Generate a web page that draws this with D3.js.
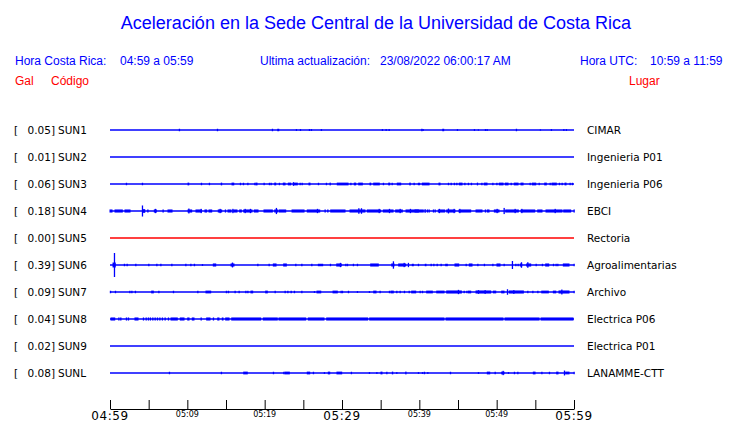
<!DOCTYPE html>
<html>
<head>
<meta charset="utf-8">
<script src="https://cdn.jsdelivr.net/npm/d3@7"></script>
<style>
  body { margin: 0; background: #fff; }
  svg { display: block; }
</style>
</head>
<body>
<svg id="chart" width="740" height="423"></svg>
<script>
// estaciones, valor pico (Gal) y lugar
const stations = [ "SUN1", "SUN2", "SUN3", "SUN4", "SUN5", "SUN6", "SUN7", "SUN8", "SUN9", "SUNL" ];
const peaks = [ 0.05, 0.01, 0.06, 0.18, 0.00, 0.39, 0.09, 0.04, 0.02, 0.08 ];
const places = [ "CIMAR", "Ingenieria P01", "Ingenieria P06", "EBCI", "Rectoria",
  "Agroalimentarias", "Archivo", "Electrica P06", "Electrica P01", "LANAMME-CTT" ];

// eventos: [minuto inicio, minuto fin, amplitud Gal], minutos desde 04:59
const sun1Events = [ [8.96,8.96,.04],[13.88,13.88,.04],[20.99,20.99,.04],[21.69,21.95,.04],[24.09,24.09,.03],
  [24.61,24.61,.03],[25.77,25.77,.03],[26.03,26.03,.03],[27.32,27.32,.03],[35.21,35.21,.03],[35.69,35.69,.03],
  [36.08,36.08,.03],[40.31,40.31,.04],[40.47,40.47,.03],[43.03,43.28,.04],[44.91,44.91,.03],[47.11,47.11,.03],
  [47.62,47.62,.02],[48.53,48.53,.03],[48.75,48.75,.03],[52.54,52.54,.04],[55.64,55.64,.02],[57.06,57.06,.03],
  [58.67,58.67,.03],[59.0,59.0,.03] ];
const sun2Events = [];
const sun3Events = [ [2.11,2.11,.04],[4.18,4.18,.04],[10.09,10.31,.045],[11.81,11.81,.04],[12.84,12.84,.04],
  [14.39,14.57,.045],[15.78,16.13,.045],[16.85,16.85,.04],[17.24,17.24,.04],[17.81,17.81,.04],[18.71,18.71,.04],
  [18.88,19.14,.045],[19.91,19.91,.04],[20.6,20.6,.04],[20.82,20.82,.04],[21.3,21.56,.045],[21.89,21.89,.04],
  [22.41,22.76,.045],[23.06,23.5,.045],[23.7,23.7,.06],[23.83,24.35,.045],[24.57,24.57,.04],[24.83,24.83,.04],
  [25.73,25.99,.045],[26.94,26.94,.04],[27.97,27.97,.04],[28.45,28.62,.045],[29.39,30.91,.045],[31.13,31.13,.04],
  [31.59,31.9,.045],[32.16,32.76,.045],[33.62,33.84,.045],[34.1,34.95,.045],[35.34,35.34,.04],[36.04,36.3,.045],
  [36.47,36.47,.04],[37.15,37.72,.045],[38.76,38.96,.045],[39.31,39.31,.04],[39.87,39.87,.04],[40.0,40.0,.04],
  [40.39,41.38,.045],[42.54,42.8,.045],[43.75,43.75,.04],[44.1,44.1,.04],[44.52,44.52,.04],[44.83,44.83,.04],
  [45.17,45.65,.045],[45.87,45.87,.04],[46.33,46.33,.04],[46.72,46.72,.04],[47.5,47.63,.045],[48.07,48.07,.04],
  [48.4,48.88,.045],[49.49,49.49,.04],[50.01,50.01,.04],[50.34,50.95,.045],[51.12,51.6,.045],[51.86,51.86,.04],
  [52.28,52.89,.045],[53.15,53.54,.045],[54.31,54.31,.04],[54.61,55.18,.045],[55.48,55.48,.04],[56.21,56.55,.045],
  [56.9,56.9,.04],[57.16,57.84,.045],[58.1,58.1,.04],[58.45,58.45,.04],[58.84,59.1,.045],[59.48,59.48,.04],
  [59.78,59.78,.04] ];
const sun4Events = [ [0,0.39,.05],[0.65,1.72,.05],[1.94,2.72,.05],[4.18,4.18,.18],[4.31,4.62,.06],[4.88,4.88,.05],
  [5.73,6.12,.05],[5.86,5.86,.07],[6.85,6.85,.05],[7.5,8.15,.05],[10.09,10.69,.05],[10.18,10.18,.08],
  [11.12,11.94,.05],[11.77,11.77,.07],[12.28,12.63,.05],[12.8,13.28,.05],[14.0,14.57,.05],[14.22,14.22,.07],
  [14.91,14.91,.05],[15.26,15.78,.05],[15.87,15.87,.07],[16.0,16.55,.05],[16.77,17.11,.05],[17.29,18.49,.05],
  [17.46,17.46,.07],[18.14,18.14,.07],[18.66,19.27,.05],[19.91,21.12,.05],[21.3,21.82,.05],[21.5,21.5,.1],
  [21.89,22.85,.05],[23.54,25.22,.05],[25.51,27.25,.05],[26.81,26.81,.07],[27.8,27.8,.05],[28.15,28.15,.05],
  [28.54,30.52,.05],[31.04,33.1,.05],[32.16,32.16,.09],[32.5,32.5,.09],[33.27,35.13,.05],[34.79,34.79,.07],
  [35.34,36.73,.05],[36.12,36.12,.07],[36.94,37.93,.05],[37.5,37.5,.07],[38.28,40.0,.05],[38.83,38.83,.07],
  [39.44,40.64,.05],[40.73,40.73,.06],[41.03,41.03,.05],[41.25,41.25,.05],[41.81,41.81,.05],[42.03,42.03,.05],
  [42.45,43.41,.05],[42.58,42.58,.07],[43.54,44.74,.05],[43.75,43.75,.08],[44.48,44.48,.07],[45.13,46.77,.05],
  [45.22,45.22,.07],[47.33,48.23,.05],[48.53,48.53,.05],[48.79,49.14,.05],[49.7,50.43,.05],[50.04,50.04,.07],
  [50.95,50.95,.1],[51.17,52.93,.05],[52.37,52.37,.07],[53.24,53.24,.07],[53.15,55.05,.05],[55.31,55.99,.05],
  [56.38,58.58,.05],[57.55,57.55,.07],[58.67,59.7,.05],[60,60,.05] ];
const sun5Events = [];
const sun6Events = [ [0.39,0.81,.08],[0.56,0.56,.39],[1.85,1.85,.04],[2.2,2.2,.04],[3.32,3.32,.04],[5.0,5.0,.04],
  [6.04,6.04,.04],[6.56,6.56,.04],[7.98,7.98,.04],[9.79,9.79,.04],[10.44,10.44,.04],[10.9,10.9,.04],[11.94,11.94,.03],
  [13.36,13.8,.05],[15.65,16.16,.05],[15.82,15.82,.08],[19.1,19.1,.04],[20.56,20.56,.04],[21.12,21.6,.05],
  [22.46,22.93,.05],[24.01,24.01,.04],[24.79,24.79,.04],[26.08,26.08,.04],[26.94,27.63,.04],[28.49,28.49,.04],
  [29.32,30.04,.05],[29.78,29.78,.07],[30.48,30.48,.04],[30.69,30.69,.04],[31.46,31.46,.04],[31.98,31.98,.04],
  [33.71,34.82,.05],[36.43,36.85,.05],[36.63,36.63,.12],[37.33,38.37,.05],[38.02,38.02,.07],[38.57,38.57,.07],
  [39.09,39.35,.04],[39.87,39.87,.04],[40.77,40.99,.04],[41.51,41.51,.04],[41.86,41.86,.04],[42.29,42.29,.04],
  [42.8,42.8,.04],[43.41,43.75,.04],[44.61,45.22,.05],[46.04,46.04,.04],[46.46,46.94,.05],[47.55,47.55,.04],
  [48.4,48.4,.04],[49.49,49.49,.04],[50.04,50.56,.05],[50.95,50.95,.04],[52.02,52.02,.13],[52.46,52.46,.04],
  [52.76,52.76,.04],[53.06,53.37,.05],[53.19,53.19,.09],[53.88,54.53,.05],[54.01,54.01,.09],[55.09,55.09,.04],
  [55.9,55.9,.04],[56.34,56.86,.05],[57.33,57.33,.04],[57.67,57.67,.04],[57.89,57.89,.04],[58.62,59.48,.05],
  [60,60,.04] ];
const sun7Events = [ [0.04,0.22,.04],[0.69,0.69,.04],[2.55,2.55,.04],[2.81,2.81,.04],[3.27,3.27,.04],[5.39,5.73,.045],
  [6.3,6.3,.04],[8.19,8.19,.04],[11.34,11.34,.04],[12.41,13.15,.045],[15.04,15.04,.04],[15.3,15.3,.04],[16.16,16.16,.04],
  [16.68,16.68,.04],[17.55,17.55,.04],[17.81,17.81,.04],[18.23,18.58,.045],[20.13,20.47,.045],[21.34,21.34,.04],
  [22.63,22.63,.04],[22.98,22.98,.04],[23.41,23.41,.04],[23.83,23.83,.04],[24.79,24.79,.04],[26.42,26.42,.03],
  [26.77,27.38,.045],[28.84,29.52,.045],[29.87,29.87,.04],[30.04,30.04,.04],[30.82,30.82,.04],[31.98,31.98,.03],
  [33.53,33.53,.03],[34.1,34.53,.045],[34.91,34.91,.04],[36.12,36.12,.04],[36.34,36.76,.045],[37.07,37.07,.04],
  [37.5,37.5,.04],[38.06,38.06,.04],[38.67,38.67,.04],[39.01,39.66,.045],[40.09,40.09,.04],[40.39,40.39,.04],
  [40.95,41.81,.045],[42.25,43.32,.045],[43.54,45.56,.05],[45.04,45.04,.07],[45.78,45.78,.04],[46.13,46.13,.04],
  [46.33,46.77,.045],[47.33,49.36,.05],[47.63,47.63,.06],[48.49,48.49,.06],[49.57,50.01,.045],[50.65,51.08,.045],
  [51.38,51.38,.09],[51.63,53.58,.05],[52.2,52.2,.06],[54.01,54.01,.04],[54.66,54.66,.04],[55.31,55.31,.04],
  [55.83,56.81,.045],[57.33,57.77,.045],[58.06,59.48,.05],[58.41,58.41,.08],[60,60,.04] ];
const sun8Events = [ [0.13,0.74,.05],[1.13,1.13,.05],[1.38,1.38,.05],[2.11,2.11,.05],[2.37,2.37,.05],[3.23,3.75,.05],
  [4.31,4.31,.05],[4.66,4.66,.05],[4.95,4.95,.05],[5.21,5.21,.05],[5.52,5.52,.05],[5.82,5.82,.05],[6.12,6.12,.05],
  [6.43,6.43,.05],[6.76,6.76,.05],[7.11,7.11,.05],[7.54,7.54,.05],[7.89,8.83,.05],[9.09,9.7,.05],[10.05,10.35,.05],
  [10.64,10.99,.05],[11.77,11.77,.05],[12.5,13.06,.05],[13.36,13.36,.05],[13.93,14.22,.05],[14.52,14.74,.05],
  [14.96,15.52,.05],[15.74,19.62,.05],[19.82,21.76,.05],[21.85,25.44,.05],[25.64,27.8,.05],[28.02,33.45,.05],
  [33.58,43.32,.05],[43.45,50.95,.05],[51.08,55.61,.05],[55.74,60,.05] ];
const sun9Events = [];
const sunlEvents = [ [7.67,7.67,.04],[14.39,14.39,.04],[17.29,17.88,.045],[21.12,21.12,.04],[22.46,22.46,.04],
  [22.63,23.32,.045],[25.51,25.95,.045],[26.29,26.29,.04],[27.71,27.71,.03],[28.23,28.54,.045],[29.35,30.09,.045],
  [31.2,31.2,.04],[33.53,33.53,.03],[34.49,34.49,.03],[35.04,35.3,.045],[35.78,35.78,.04],[36.51,36.69,.045],
  [37.07,37.07,.03],[38.24,38.41,.045],[39.87,39.87,.03],[40.39,40.39,.03],[40.64,40.64,.04],[41.08,41.08,.03],
  [44.01,44.01,.04],[47.63,47.63,.03],[48.79,49.23,.045],[49.79,49.79,.04],[50.65,51.08,.045],[50.82,50.82,.07],
  [51.51,51.51,.03],[52.28,52.28,.04],[52.72,52.72,.04],[54.74,55.09,.045],[55.83,55.83,.04],[56.81,56.81,.04],
  [57.76,58.06,.045],[58.75,58.75,.08],[58.93,59.48,.045],[60,60,.04] ];
const eventsByStation = [ sun1Events, sun2Events, sun3Events, sun4Events, sun5Events,
  sun6Events, sun7Events, sun8Events, sun9Events, sunlEvents ];

// eje de tiempo
const tickMinutes = [ 0, 5, 10, 15, 20, 25, 30, 35, 40, 45, 50, 55, 60 ];
const tickLabels = [ "04:59", "", "05:09", "", "05:19", "", "05:29", "", "05:39", "", "05:49", "", "05:59" ];
const bigTicks = [ "04:59", "05:29", "05:59" ];

const title = "Aceleración en la Sede Central de la Universidad de Costa Rica";
const horaCR = "04:59 a 05:59";
const horaUTC = "10:59 a 11:59";
const actualizacion = "23/08/2022 06:00:17 AM";

const svg = d3.select( "#chart" );
const blue = "#0000ff", red = "#ff0000";
const headFont = "'Liberation Sans', Arial, sans-serif";
const labelFont = "'DejaVu Sans', sans-serif";

const x = d3.scaleLinear().domain( [ 0, 60 ] ).range( [ 110, 574 ] );
const y = d3.scalePoint().domain( stations ).range( [ 130, 373 ] );
const amp = d3.scaleLinear().domain( [ 0, 0.39 ] ).range( [ 0, 12 ] );

// encabezado
svg.append( "text" )
  .attr( "x", 376 ).attr( "y", 29 )
  .attr( "text-anchor", "middle" )
  .attr( "fill", blue )
  .style( "font-family", headFont ).style( "font-size", "18px" )
  .text( title );

const head = [
  { t: "Hora Costa Rica:", x: 15, y: 65, c: blue },
  { t: horaCR, x: 120, y: 65, c: blue },
  { t: "Ultima actualización:", x: 260, y: 65, c: blue },
  { t: actualizacion, x: 380, y: 65, c: blue },
  { t: "Hora UTC:", x: 580, y: 65, c: blue },
  { t: horaUTC, x: 650, y: 65, c: blue },
  { t: "Gal", x: 15, y: 85, c: red },
  { t: "Código", x: 51, y: 85, c: red },
  { t: "Lugar", x: 629, y: 85, c: red }
];
svg.selectAll( "text.head" )
  .data( head )
  .enter().append( "text" )
    .attr( "class", "head" )
    .attr( "x", d => d.x ).attr( "y", d => d.y )
    .attr( "fill", d => d.c )
    .style( "font-family", headFont ).style( "font-size", "12px" )
    .text( d => d.t );

// filas
const rows = svg.selectAll( "g.row" )
  .data( stations )
  .enter().append( "g" )
    .attr( "class", "row" )
    .attr( "transform", d => "translate(0," + y( d ) + ")" );

rows.append( "text" ).attr( "x", 14 ).attr( "y", 4 )
  .style( "font-family", labelFont ).style( "font-size", "10.5px" )
  .text( "[" );
rows.append( "text" ).attr( "x", 55 ).attr( "y", 4 )
  .attr( "text-anchor", "end" )
  .style( "font-family", labelFont ).style( "font-size", "10.5px" )
  .text( ( d, i ) => peaks[ i ].toFixed( 2 ) + "]" );
rows.append( "text" ).attr( "x", 58 ).attr( "y", 4 )
  .style( "font-family", labelFont ).style( "font-size", "10.5px" )
  .text( d => d );
rows.append( "text" ).attr( "x", 587 ).attr( "y", 4 )
  .style( "font-family", labelFont ).style( "font-size", "10.5px" )
  .text( ( d, i ) => places[ i ] );

rows.append( "line" )
  .attr( "x1", x( 0 ) ).attr( "x2", x( 60 ) )
  .attr( "stroke", ( d, i ) => peaks[ i ] === 0 ? red : blue )
  .attr( "stroke-width", 1.4 );

rows.each( function( d, i ) {
  d3.select( this ).selectAll( "rect" )
    .data( eventsByStation[ i ] )
    .enter().append( "rect" )
      .attr( "x", e => x( e[ 0 ] ) - 0.5 )
      .attr( "width", e => Math.max( 1.3, x( e[ 1 ] ) - x( e[ 0 ] ) ) )
      .attr( "y", e => -amp( e[ 2 ] ) )
      .attr( "height", e => 2 * amp( e[ 2 ] ) )
      .attr( "fill", peaks[ i ] === 0 ? red : blue );
} );

// eje
const axis = svg.append( "g" )
  .attr( "transform", "translate(0,409)" )
  .call( d3.axisTop( x ).tickValues( tickMinutes ).tickSize( 9 ).tickSizeOuter( 0 ).tickFormat( "" ) );
axis.select( ".domain" ).attr( "stroke", "#000" ).attr( "stroke-width", 1.2 );
axis.selectAll( ".tick line" ).attr( "stroke", "#000" );

svg.selectAll( "text.tl" )
  .data( tickMinutes.filter( ( m, i ) => tickLabels[ i ] !== "" ) )
  .enter().append( "text" )
    .attr( "class", "tl" )
    .attr( "x", m => x( m ) )
    .attr( "y", m => bigTicks.includes( tickLabels[ tickMinutes.indexOf( m ) ] ) ? 420 : 417 )
    .attr( "text-anchor", "middle" )
    .style( "font-family", labelFont )
    .style( "font-size", m => bigTicks.includes( tickLabels[ tickMinutes.indexOf( m ) ] ) ? "12px" : "8px" )
    .style( "letter-spacing", m => bigTicks.includes( tickLabels[ tickMinutes.indexOf( m ) ] ) ? "0.6px" : "0px" )
    .text( m => tickLabels[ tickMinutes.indexOf( m ) ] );
</script>
</body>
</html>
